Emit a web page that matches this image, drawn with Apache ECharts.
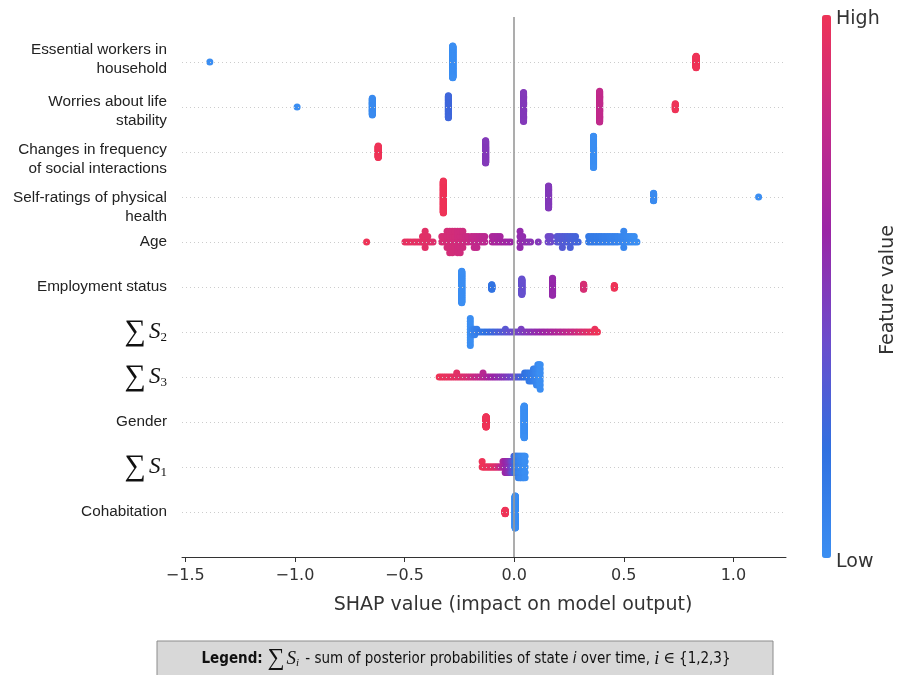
<!DOCTYPE html>
<html><head><meta charset="utf-8">
<script src="https://cdn.jsdelivr.net/npm/echarts@6/dist/echarts.min.js"></script>
<style>html,body{margin:0;padding:0;background:#fff}#c{width:899px;height:675px}</style>
</head><body><div id="c"></div>
<script>
// Row labels, bottom (row 0) to top (row 10)
const featureNames = ['Cohabitation', 'S1', 'Gender', 'S3', 'S2', 'Employment status', 'Age',
  'Self-ratings of physical\nhealth', 'Changes in frequency\nof social interactions',
  'Worries about life\nstability', 'Essential workers in\nhousehold'];

// Each entry: [SHAP value, number of samples, feature value (0 = low, 1 = high)]
const cohabitation = [[-0.041, 21, 1], [0.005, 179, 0]];
const sumS1 = [[-0.146,2,1],[-0.141,1,1],[-0.136,1,1],[-0.131,1,0.99],[-0.126,1,0.98],[-0.121,1,0.98],[-0.116,1,0.97],[-0.111,1,0.97],[-0.106,1,0.96],[-0.101,1,0.95],[-0.096,1,0.94],[-0.091,1,0.93],[-0.086,1,0.92],[-0.081,1,0.9],[-0.076,1,0.88],[-0.071,1,0.85],[-0.066,1,0.82],[-0.061,1,0.78],[-0.056,1,0.74],[-0.051,2,0.7],[-0.046,2,0.66],
  [-0.041,3,0.62],[-0.037,3,0.6],[-0.033,3,0.58],[-0.029,3,0.56],[-0.025,3,0.54],[-0.021,3,0.52],[-0.017,3,0.48],[-0.013,3,0.44],[-0.009,3,0.4],[-0.005,3,0.36],[-0.001,4,0.3],[0.003,4,0.25],[0.007,4,0.2],[0.011,4,0.16],[0.015,4,0.12],
  [0.019,5,0.08],[0.023,4,0.06],[0.027,5,0.05],[0.031,5,0.04],[0.035,4,0.03],[0.039,5,0.02],[0.043,5,0.02],[0.047,4,0.01],[0.05,5,0]];
const gender = [[-0.128, 50, 1], [0.046, 150, 0]];
const sumS3 = [[-0.342,1,1],[-0.332,1,1],[-0.322,1,0.98],[-0.312,1,0.97],[-0.302,1,0.97],[-0.292,1,0.96],[-0.282,1,0.95],[-0.272,1,0.95],[-0.262,2,0.94],[-0.252,1,0.93],[-0.242,1,0.92],[-0.232,1,0.91],[-0.222,1,0.9],[-0.212,1,0.88],[-0.202,1,0.86],[-0.192,1,0.84],[-0.182,1,0.82],[-0.172,1,0.8],[-0.162,1,0.78],[-0.152,1,0.76],[-0.142,2,0.74],[-0.132,1,0.72],[-0.122,1,0.68],[-0.112,1,0.65],[-0.102,1,0.62],[-0.092,1,0.6],[-0.082,1,0.58],[-0.072,1,0.56],[-0.062,1,0.54],[-0.052,1,0.52],[-0.042,1,0.5],[-0.032,1,0.48],[-0.022,1,0.45],[-0.012,1,0.42],[-0.002,1,0.4],[0.008,1,0.36],[0.018,1,0.32],[0.028,1,0.28],[0.038,1,0.24],[0.048,2,0.2],[0.058,2,0.17],[0.068,3,0.14],[0.078,3,0.12],[0.088,4,0.1],[0.095,4,0.08],[0.102,5,0.06],[0.108,6,0.04],[0.114,6,0.02],[0.119,7,0]];
const sumS2 = [[-0.2,11,0],[-0.19,3,0.05],[-0.18,3,0.08],[-0.17,2,0.11],[-0.16,1,0.14],
  [-0.148,1,0.16],[-0.136,1,0.18],[-0.124,1,0.2],[-0.112,1,0.22],[-0.1,1,0.24],[-0.088,1,0.26],[-0.076,1,0.28],[-0.064,1,0.3],[-0.052,1,0.32],[-0.04,2,0.34],[-0.028,1,0.36],[-0.016,1,0.38],[-0.004,1,0.4],[0.008,1,0.42],[0.02,1,0.44],[0.032,2,0.46],[0.044,1,0.48],[0.056,1,0.5],[0.068,1,0.52],[0.08,1,0.53],[0.092,1,0.55],[0.104,1,0.57],[0.116,1,0.58],[0.128,1,0.6],[0.14,1,0.62],[0.152,1,0.63],[0.164,1,0.65],[0.176,1,0.67],[0.188,1,0.69],[0.2,1,0.7],[0.212,1,0.72],[0.224,1,0.74],[0.236,1,0.76],[0.248,1,0.78],[0.26,1,0.8],[0.272,1,0.82],[0.284,1,0.84],[0.296,1,0.86],[0.308,1,0.88],[0.32,1,0.9],[0.332,1,0.92],[0.344,1,0.94],[0.356,1,0.96],[0.368,2,0.98],[0.38,1,1]];
const employment = [[-0.239,81,0],[-0.102,13,0.18],[0.035,40,0.38],[0.175,44,0.58],[0.317,14,0.88],[0.457,8,1]];
const age = [[-0.673,1,1],
  [-0.498,1,0.96],[-0.486,1,0.96],[-0.474,1,0.96],[-0.461,1,0.95],[-0.449,1,0.95],[-0.437,1,0.95],[-0.425,1,0.94],[-0.418,2,0.94],[-0.406,4,0.94],[-0.394,2,0.93],[-0.382,1,0.93],[-0.37,1,0.92],
  [-0.33,2,0.88],[-0.318,2,0.88],[-0.306,4,0.87],[-0.294,5,0.87],[-0.282,5,0.86],[-0.27,4,0.86],[-0.258,5,0.85],[-0.246,5,0.85],[-0.234,4,0.84],[-0.222,2,0.83],[-0.21,2,0.82],
  [-0.194,2,0.8],[-0.182,3,0.79],[-0.17,3,0.78],[-0.158,2,0.77],[-0.146,2,0.76],[-0.134,2,0.75],
  [-0.1,2,0.68],[-0.088,2,0.67],[-0.076,2,0.66],[-0.064,2,0.65],[-0.052,1,0.64],[-0.04,1,0.63],[-0.028,1,0.62],[-0.016,1,0.61],
  [0.027,4,0.57],[0.039,2,0.56],[0.051,1,0.55],[0.063,1,0.54],[0.075,1,0.53],
  [0.11,1,0.5],
  [0.155,2,0.42],[0.167,2,0.41],
  [0.196,2,0.34],[0.208,2,0.33],[0.22,3,0.32],[0.232,2,0.31],[0.244,2,0.3],[0.256,3,0.29],[0.268,2,0.28],[0.28,2,0.27],[0.292,1,0.26],
  [0.34,2,0.14],[0.352,2,0.13],[0.364,2,0.13],[0.376,2,0.12],[0.388,2,0.12],[0.4,2,0.11],[0.412,2,0.1],[0.424,2,0.1],[0.436,2,0.09],[0.448,2,0.08],[0.46,2,0.08],[0.472,2,0.07],[0.488,2,0.06],[0.5,4,0.05],[0.512,2,0.04],[0.524,2,0.03],[0.536,2,0.02],[0.548,2,0.01],[0.56,1,0]];
const selfRatedHealth = [[-0.323,103,1],[0.157,71,0.5],[0.636,25,0.03],[1.115,1,0]];
const changesSocial = [[-0.62,36,1],[-0.13,68,0.5],[0.362,96,0]];
const worriesLife = [[-0.99,1,0],[-0.647,32,0.03],[-0.30,42,0.25],[0.043,55,0.5],[0.39,58,0.78],[0.735,12,1]];
const essentialWorkers = [[-1.388,1,0],[-0.28,146,0],[0.83,53,1]];

const rows = [cohabitation, sumS1, gender, sumS3, sumS2, employment, age, selfRatedHealth, changesSocial, worriesLife, essentialWorkers];
const xTicks = [-1.5, -1.0, -0.5, 0.0, 0.5, 1.0];

// SHAP-style beeswarm layout: stack samples of a group symmetrically around the row
function swarm(groups, row) {
  const M = Math.max(...groups.map(g => g[1]));
  const maxOff = Math.ceil((M - 1) / 2);
  const step = 0.9 * 0.4 / (maxOff + 1);
  const pts = [];
  groups.forEach(([x, n, fv]) => {
    for (let l = 0; l < n; l++) {
      const off = Math.ceil(l / 2) * ((l % 2) * 2 - 1);
      pts.push([x, row + off * step, fv]);
    }
  });
  return pts;
}
let points = [];
rows.forEach((g, i) => { points = points.concat(swarm(g, i)); });

const chart = echarts.init(document.getElementById('c'), null, {renderer: 'canvas'});
const serif = "'Liberation Serif','DejaVu Serif',serif";
const sans = "'Liberation Sans',Arial,sans-serif";
const dv = "'DejaVu Sans',sans-serif";
const narrow = "'Liberation Sans Narrow','DejaVu Sans Condensed','Liberation Sans',sans-serif";

// vertical nudge (px, + = down) of two-line labels, as in the reference
const labelShift = {7: 10, 8: 7, 9: 4, 10: -3};
const rich = {
  sig: {fontFamily: serif, fontSize: 30, color: '#111', padding: [0, 3, 0, 0]},
  s: {fontFamily: serif, fontStyle: 'italic', fontSize: 23, color: '#111'},
  sub: {fontFamily: serif, fontSize: 13, color: '#111', padding: [12, 0, 0, 0]},
  l: {fontFamily: sans, fontSize: 15.3, color: '#222', lineHeight: 19}
};
Object.keys(labelShift).forEach(k => {
  rich['sp' + k] = {fontSize: 1, lineHeight: 2 * Math.abs(labelShift[k]), color: 'rgba(0,0,0,0)'};
});

chart.setOption({
  animation: false,
  grid: {left: 182, right: 113, top: 17, bottom: 118},
  xAxis: {
    type: 'value', min: -1.515, max: 1.24,
    splitLine: {show: false},
    axisLine: {onZero: false, lineStyle: {color: '#333', width: 1}},
    axisTick: {customValues: xTicks, length: 5, lineStyle: {color: '#333'}},
    axisLabel: {customValues: xTicks, margin: 11, color: '#333', fontFamily: dv, fontSize: 16,
      formatter: v => (v < 0 ? '\u2212' : '') + Math.abs(v).toFixed(1)},
    name: 'SHAP value (impact on model output)', nameLocation: 'middle', nameGap: 39,
    nameTextStyle: {fontFamily: dv, fontSize: 19, color: '#333', padding: [0, 0, 0, 58]}
  },
  yAxis: {
    type: 'value', min: -1, max: 11, interval: 1,
    splitLine: {show: false}, axisLine: {show: false, onZero: false}, axisTick: {show: false},
    axisLabel: {
      margin: 15, color: '#222', fontFamily: sans, fontSize: 15.3, lineHeight: 19,
      formatter: v => {
        const i = Math.round(v);
        if (i < 0 || i > 10) return '';
        const n = featureNames[i];
        if (/^S\d$/.test(n)) return '{sig|\u2211}{s|S}{sub|' + n[1] + '}';
        const parts = n.split('\n');
        let txt = parts.map(p => '{l|' + p + '}').join('\n');
        const d = labelShift[i];
        if (d > 0) txt = '{sp' + i + '| }\n' + txt;
        else if (d < 0) txt = txt + '\n{sp' + i + '| }';
        return txt;
      },
      rich: rich
    }
  },
  visualMap: {
    type: 'continuous', seriesIndex: 1, dimension: 2, min: 0, max: 1,
    orient: 'vertical', left: 822, top: 15, itemWidth: 9, itemHeight: 543,
    padding: 0, calculable: false, hoverLink: false, text: null, showLabel: false,
    inRange: {color: ['#3b8ef2', '#3070e0', '#6c4ccc', '#9a25a6', '#c42a88', '#ee3357']}
  },
  series: [
    {
      type: 'scatter', data: [], z: 1, silent: true,
      markLine: {
        silent: true, symbol: 'none', label: {show: false}, animation: false,
        data: [
          ...featureNames.map((_, i) => ({yAxis: i, lineStyle: {color: '#cccccc', width: 1, type: [1, 3]}})),
          {xAxis: 0, lineStyle: {color: '#999', width: 1.6, type: 'solid'}}
        ]
      }
    },
    {
      type: 'scatter', data: points, symbolSize: 7, z: 3, silent: true,
      itemStyle: {opacity: 1}, large: false, progressive: 0
    }
  ],
  graphic: [
    {type: 'text', left: 836, top: 10, style: {text: 'High', fontFamily: dv, fontSize: 19, fill: '#333'}},
    {type: 'text', left: 836, top: 553, style: {text: 'Low', fontFamily: dv, fontSize: 19, fill: '#333'}},
    {type: 'text', x: 888, y: 290, rotation: Math.PI / 2,
      style: {text: 'Feature value', fontFamily: dv, fontSize: 19, fill: '#333', align: 'center', verticalAlign: 'middle'}},
    {type: 'rect', shape: {x: 157, y: 641, width: 616, height: 45},
      style: {fill: '#d8d8d8', stroke: '#8c8c8c', lineWidth: 1}},
    {type: 'text', x: 466, y: 659,
      style: {
        text: '{b|Legend: }{sig|\u2211}{s|S}{sub|i}{t| - sum of posterior probabilities of state }{ti|i}{t| over time, }{mi|i}{m| \u2208 }{t|\u007B1,2,3\u007D}',
        align: 'center', verticalAlign: 'middle', fontFamily: narrow, fontSize: 15, fill: '#111',
        rich: {
          b: {fontFamily: narrow, fontSize: 15, fontWeight: 'bold', fill: '#111'},
          sig: {fontFamily: serif, fontSize: 24, fill: '#111'},
          s: {fontFamily: serif, fontStyle: 'italic', fontSize: 19, fill: '#111', padding: [0, 0, 0, 2]},
          sub: {fontFamily: serif, fontStyle: 'italic', fontSize: 11, fill: '#111', padding: [9, 2, 0, 0]},
          t: {fontFamily: narrow, fontSize: 15, fill: '#111'},
          ti: {fontFamily: narrow, fontStyle: 'italic', fontSize: 15, fill: '#111'},
          mi: {fontFamily: serif, fontStyle: 'italic', fontSize: 18, fill: '#111'},
          m: {fontFamily: serif, fontSize: 16, fill: '#111'}
        }
      }}
  ]
});
</script></body></html>
